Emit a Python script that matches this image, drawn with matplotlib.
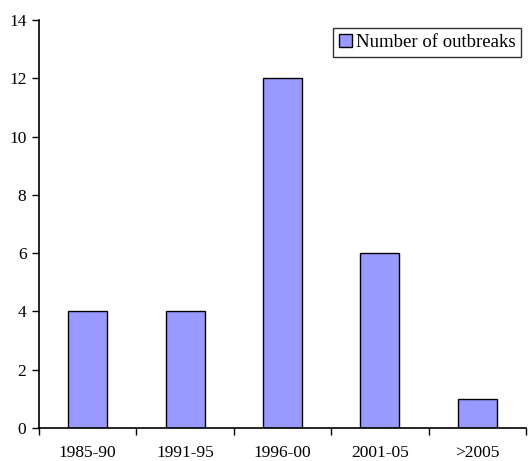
# outbreaks bar chart

import matplotlib
matplotlib.use('Agg')
import matplotlib.pyplot as plt
import numpy as np

# data
periods = ['1985-90', '1991-95', '1996-00', '2001-05', '>2005']
outbreaks = [4, 4, 12, 6, 1]
yticks = [0, 2, 4, 6, 8, 10, 12, 14]

plt.rcParams['font.family'] = ['Liberation Serif', 'DejaVu Serif']

fig = plt.figure(figsize=(5.31, 4.61), dpi=100)
ax = fig.add_axes([39/531, 33/461, 487/531, 408/461])

x = np.arange(len(periods))
ax.bar(x, outbreaks, width=0.4, color='#9999ff', edgecolor='black',
       linewidth=1, label='Number of outbreaks', zorder=2)

ax.set_xlim(-0.5, len(periods) - 0.5)
ax.set_ylim(0, 14)
ax.set_yticks(yticks)
ax.tick_params(axis='y', labelsize=12.5, direction='out', length=5, width=1, pad=4)

# category labels centred, ticks on boundaries
ax.set_xticks(x)
ax.set_xticklabels(periods, fontsize=12.5)
ax.tick_params(axis='x', which='major', length=0, pad=12)
ax.set_xticks(np.arange(-0.5, len(periods) + 0.5, 1), minor=True)
ax.tick_params(axis='x', which='minor', direction='out', length=5, width=1)

for s in ['top', 'right']:
    ax.spines[s].set_visible(False)
for s in ['left', 'bottom']:
    ax.spines[s].set_linewidth(1.2)

leg = ax.legend(loc='upper right', bbox_to_anchor=(0.99, 0.98), fontsize=13.5,
                frameon=True, fancybox=False, edgecolor='black',
                handlelength=0.7, handleheight=0.7, handletextpad=0.2,
                borderpad=0.3, borderaxespad=0)
leg.get_frame().set_linewidth(1)

fig.savefig('out.png', dpi=100)
